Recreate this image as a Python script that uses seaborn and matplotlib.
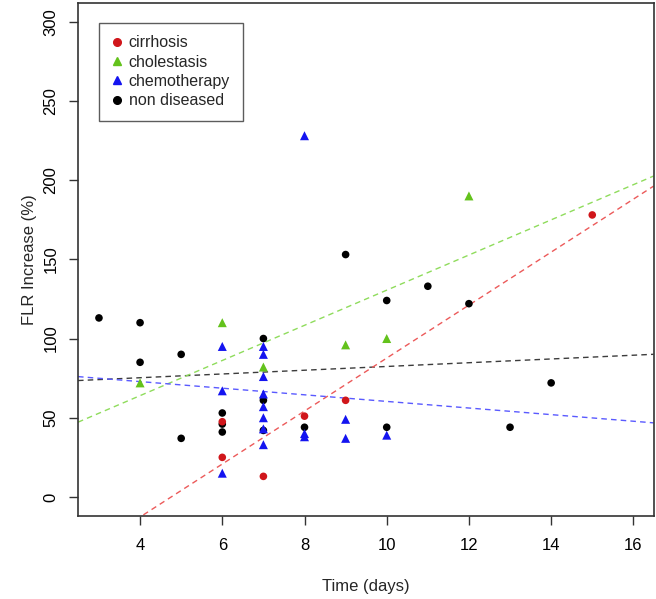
import numpy as np
import pandas as pd
import seaborn as sns
import matplotlib.pyplot as plt
from matplotlib.lines import Line2D

# values, one list pair per group
cirrhosis_days = [6, 6, 7, 8, 9, 15]
cirrhosis_flr = [25, 47.5, 13, 51, 61, 178]

cholestasis_days = [4, 6, 7, 9, 10, 12]
cholestasis_flr = [72, 110, 82, 96, 100, 190]

chemo_days = [6, 6, 6, 7, 7, 7, 7, 7, 7, 7, 7, 8, 8, 8, 9, 9, 10]
chemo_flr = [95, 67, 15, 95, 90, 76, 65, 57, 50, 43, 33, 228, 40, 38, 49, 37, 39]

healthy_days = [3, 4, 4, 5, 5, 6, 6, 6, 7, 7, 7, 8, 9, 10, 10, 11, 12, 13, 14]
healthy_flr = [113, 110, 85, 90, 37, 53, 46, 41, 100, 61, 42, 44, 153, 124, 44, 133, 122, 44, 72]

groups = ["non diseased", "cirrhosis", "cholestasis", "chemotherapy"]
legend_order = ["cirrhosis", "cholestasis", "chemotherapy", "non diseased"]
point_colors = {"cirrhosis": "#d0161b", "cholestasis": "#63c21c",
                "chemotherapy": "#1414f0", "non diseased": "#000000"}
line_colors = {"cirrhosis": "#ec5a5a", "cholestasis": "#8fdc5c",
               "chemotherapy": "#5a5aff", "non diseased": "#3c3c3c"}
markers = {"cirrhosis": "o", "cholestasis": "^", "chemotherapy": "^", "non diseased": "o"}

df = pd.concat([
    pd.DataFrame({"days": healthy_days, "flr": healthy_flr, "group": "non diseased"}),
    pd.DataFrame({"days": cirrhosis_days, "flr": cirrhosis_flr, "group": "cirrhosis"}),
    pd.DataFrame({"days": cholestasis_days, "flr": cholestasis_flr, "group": "cholestasis"}),
    pd.DataFrame({"days": chemo_days, "flr": chemo_flr, "group": "chemotherapy"}),
], ignore_index=True)

sns.set_style("ticks")
plt.rcParams["font.family"] = ["Liberation Sans", "DejaVu Sans"]

fig = plt.figure(figsize=(6.56, 5.99), dpi=100)
ax = fig.add_axes([0.1189, 0.1386, 0.8773, 0.857])
ax.set_xlim(2.49, 16.49)
ax.set_ylim(-12, 312)

# linear fits spanning the whole plot width (like abline(lm(...)))
for g in groups:
    sub = df[df["group"] == g]
    sns.regplot(data=sub, x="days", y="flr", ax=ax, scatter=False, ci=None,
                truncate=False,
                line_kws=dict(color=line_colors[g], lw=1.0, ls=(0, (4, 3))))

for g in groups:
    sub = df[df["group"] == g]
    sns.scatterplot(data=sub, x="days", y="flr", ax=ax, color=point_colors[g],
                    marker=markers[g], s=42 if markers[g] == "^" else 30,
                    edgecolor="none", legend=False, zorder=3)

ax.set_xlim(2.49, 16.49)
ax.set_ylim(-12, 312)
ax.set_xticks([4, 6, 8, 10, 12, 14, 16])
ax.set_yticks([0, 50, 100, 150, 200, 250, 300])
ax.tick_params(axis="both", labelsize=12, length=6.5, width=1, color="#333333",
               labelcolor="#000000")
for lab in ax.get_yticklabels():
    lab.set_rotation(90)
    lab.set_va("center")
ax.tick_params(axis="x", pad=9)
ax.tick_params(axis="y", pad=7.5)
for sp in ax.spines.values():
    sp.set_visible(True)
    sp.set_color("#333333")
    sp.set_linewidth(1.2)

ax.set_xlabel("Time (days)", fontsize=12)
ax.set_ylabel("FLR Increase (%)", fontsize=12)
ax.xaxis.set_label_coords(0.5, -0.123)
ax.yaxis.set_label_coords(-0.072, 0.5)

handles = [Line2D([], [], ls="none", marker=markers[g], color=point_colors[g],
                  markersize=6 if markers[g] == "^" else 5.5) for g in legend_order]
leg = ax.legend(handles, legend_order, loc="upper left",
                bbox_to_anchor=(0.0365, 0.961), fontsize=11.5, frameon=True,
                fancybox=False, handlelength=0.6, handletextpad=0.45,
                labelspacing=0.27, borderpad=0.8, borderaxespad=0)
leg.get_frame().set_edgecolor("#333333")
leg.get_frame().set_linewidth(1.0)

fig.savefig("out.png", dpi=100)
